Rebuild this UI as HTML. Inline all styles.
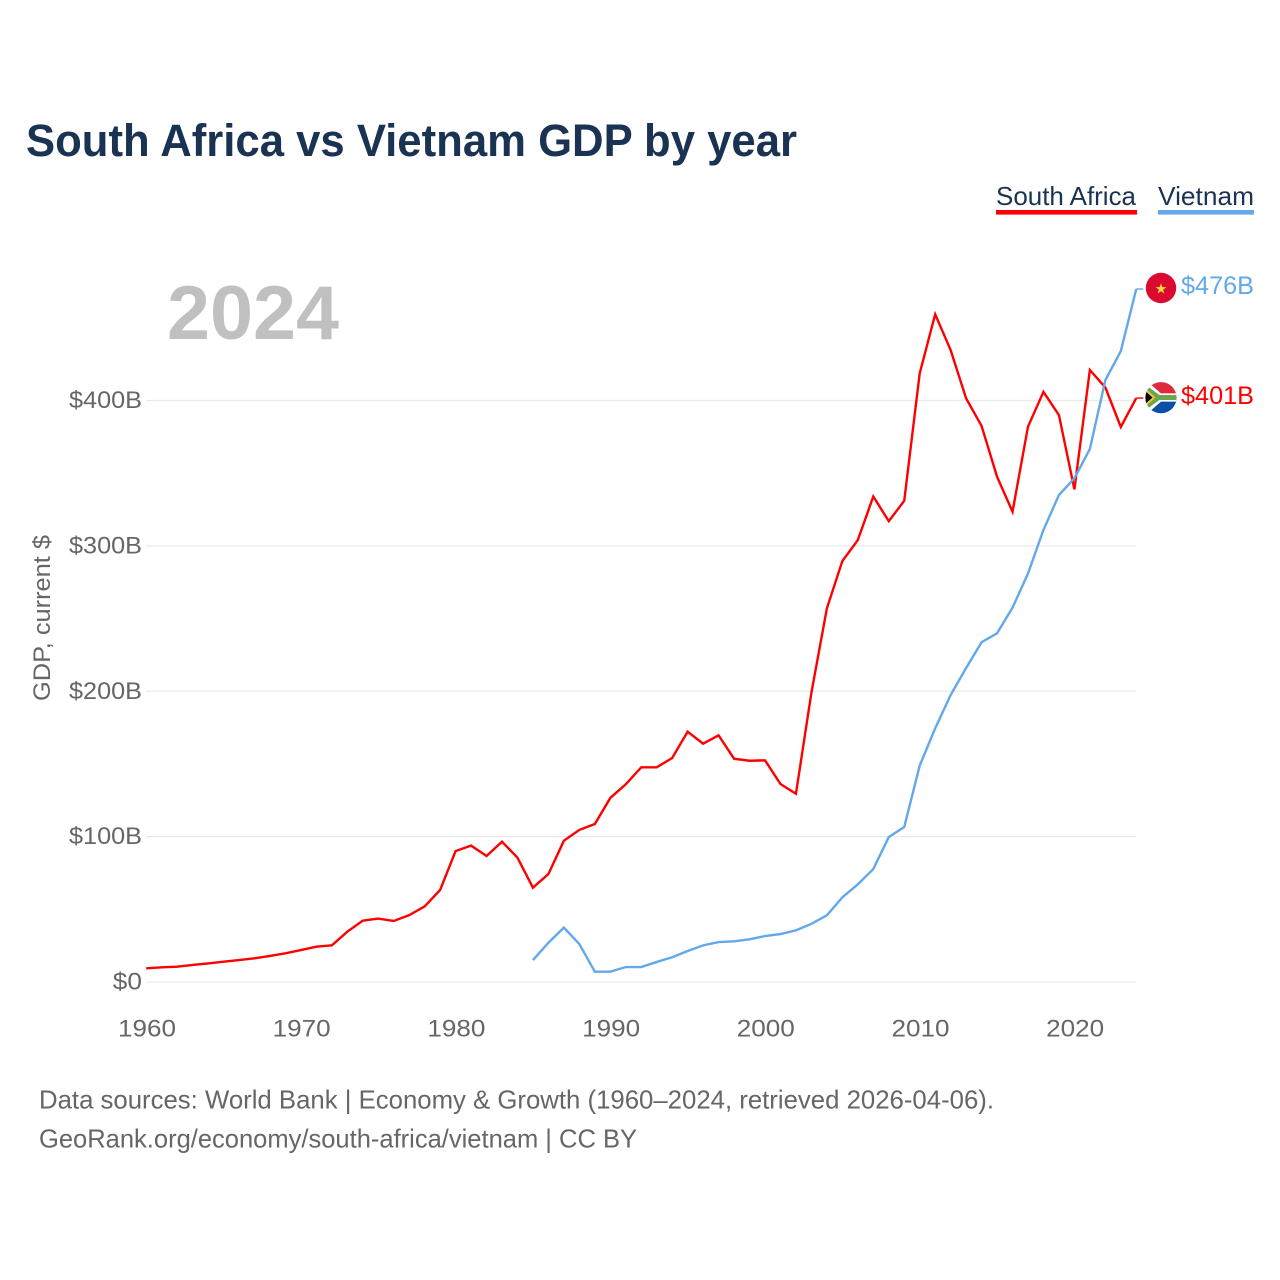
<!DOCTYPE html>
<html lang="en">
<head>
<meta charset="utf-8">
<title>South Africa vs Vietnam GDP by year</title>
<style>
html,body{margin:0;padding:0;background:#fff;width:1280px;height:1280px;overflow:hidden}
svg{display:block}
text{font-family:"Liberation Sans",sans-serif}
</style>
</head>
<body>
<svg id="chart" xmlns="http://www.w3.org/2000/svg" width="1280" height="1280" viewBox="0 0 1280 1280">
  <rect x="0" y="0" width="1280" height="1280" fill="#ffffff"/>
  <text x="26" y="156" font-size="45" font-weight="700" fill="#1a3353" textLength="771" lengthAdjust="spacingAndGlyphs">South Africa vs Vietnam GDP by year</text>

  <g id="grid"></g>
  <g id="yticks"></g>
  <g id="xticks"></g>
  <text transform="translate(50,618) rotate(-90)" text-anchor="middle" font-size="24" fill="#666666" textLength="166" lengthAdjust="spacingAndGlyphs">GDP, current $</text>

  <text x="167" y="339" font-size="76" font-weight="700" fill="#c0c0c0" textLength="172" lengthAdjust="spacingAndGlyphs">2024</text>

  <g id="series"></g>

  <g>
    <text x="996" y="205" font-size="26" fill="#1a3353" textLength="140" lengthAdjust="spacingAndGlyphs">South Africa</text>
    <rect x="996" y="210" width="141" height="4.6" fill="#ff0000"/>
  </g>
  <g>
    <text x="1158" y="205" font-size="26" fill="#1a3353" textLength="96" lengthAdjust="spacingAndGlyphs">Vietnam</text>
    <rect x="1158" y="210" width="96" height="4.6" fill="#62a8ea"/>
  </g>

  <defs>
    <clipPath id="sa-clip"><circle cx="1161" cy="397.7" r="15.6"/></clipPath>
  </defs>
  <g>
    <circle cx="1161" cy="288" r="15.2" fill="#da0a30"/>
    <polygon transform="translate(1161,288.6) scale(0.72) translate(-1161,-288)" points="1161,280.6 1162.9,285.9 1168.5,286 1164,289.4 1165.6,294.8 1161,291.6 1156.4,294.8 1158,289.4 1153.5,286 1159.1,285.9" fill="#fcd63a"/>
  </g>
  <g clip-path="url(#sa-clip)">
    <rect x="1145" y="381" width="33" height="17" fill="#de2a3c"/>
    <rect x="1145" y="397.5" width="33" height="17" fill="#0b50a8"/>
    <path d="M1148,382 L1161,393.4 L1178,393.4 L1178,401.6 L1161,401.6 L1148,413 L1145,413 L1145,382 Z" fill="#ffffff"/>
    <path d="M1145,384.5 L1159.4,395 L1178,395 L1178,400 L1159.4,400 L1145,410.5 Z" fill="#6da54e"/>
    <path d="M1144,388.5 L1154,397.5 L1144,406.5 Z" fill="#000000" stroke="#f3c53a" stroke-width="2"/>
  </g>
  <text x="1181" y="294" font-size="25" fill="#62a8ea" textLength="73" lengthAdjust="spacingAndGlyphs">$476B</text>
  <text x="1181" y="404" font-size="25" fill="#ff0000" textLength="73" lengthAdjust="spacingAndGlyphs">$401B</text>

  <text x="39" y="1108.5" font-size="26" fill="#666666" textLength="955" lengthAdjust="spacingAndGlyphs">Data sources: World Bank | Economy &amp; Growth (1960–2024, retrieved 2026-04-06).</text>
  <text x="39" y="1147.5" font-size="26" fill="#666666" textLength="598" lengthAdjust="spacingAndGlyphs">GeoRank.org/economy/south-africa/vietnam | CC BY</text>
</svg>

<script>
const firstYear = 1960;
const southAfricaGdp = [9.4,10.1,10.5,11.7,12.8,14,15.1,16.3,17.9,19.7,22,24.3,25.2,34.6,42.2,43.6,42,46,52,63.3,90.1,93.8,86.7,96.5,85.5,64.9,74.3,97.2,104.6,108.7,126.6,136,147.7,147.7,154.1,172.2,163.9,169.7,153.6,152.2,152.5,136.2,129.5,199,257,289.6,304,334,317,331,418.7,459.3,434.7,401.5,382.5,347.6,323.5,382,406,390,338.9,421,409,381.8,401.7];
const vietnamFirstYear = 1985;
const vietnamGdp = [15.1,27,37.4,26.1,7.1,7.1,10.3,10.3,13.8,17,21.3,25.2,27.5,28,29.4,31.6,33,35.5,40,45.9,58.2,67.2,77.7,99.7,106.6,148.8,174.5,197.4,216,233.7,239.9,257.5,281,311,335,346.5,366.7,414,434,476.7];
const yTickValues = [0,100,200,300,400];
const yTickLabels = ["$0","$100B","$200B","$300B","$400B"];
const xTickYears = [1960,1970,1980,1990,2000,2010,2020];
const xTickLabels = ["1960","1970","1980","1990","2000","2010","2020"];

const NS = "http://www.w3.org/2000/svg";
function xScale(year){ return 146.2 + (year - 1960) * 15.47; }
function yScale(value){ return 982 - value * 1.4537; }
function make(tag, parent, attrs, content){
  const el = document.createElementNS(NS, tag);
  for (const key in attrs) el.setAttribute(key, attrs[key]);
  if (content !== undefined) el.textContent = content;
  parent.appendChild(el);
  return el;
}
const gridGroup = document.getElementById("grid");
const yTickGroup = document.getElementById("yticks");
const xTickGroup = document.getElementById("xticks");
const seriesGroup = document.getElementById("series");

yTickValues.forEach(function(value, i){
  const line = make("line", gridGroup, {x1:146, x2:1136, y1:yScale(value), y2:yScale(value), stroke:"#e9e9e9", "stroke-width":1.3});
  
  
  const label = yTickLabels[i];
  const tick = make("text", yTickGroup, {x:142, y:yScale(value)+7.5, "text-anchor":"end", "font-size":24.5, fill:"#666666", textLength:label.length*14.6, lengthAdjust:"spacingAndGlyphs"}, label);
  
  
});

xTickYears.forEach(function(year, i){
  const tick = make("text", xTickGroup, {x:xScale(year)+0.8, y:1036.4, "text-anchor":"middle", "font-size":24.5, fill:"#666666", textLength:58, lengthAdjust:"spacingAndGlyphs"}, xTickLabels[i]);
  
  
});

function seriesPoints(values, startYear){
  return values.map(function(v, i){ return xScale(startYear + i).toFixed(2) + "," + yScale(v).toFixed(2); }).join(" ");
}
function drawStub(values, startYear, color){
  const lastYear = startYear + values.length - 1;
  const lastValue = values[values.length - 1];
  const stub = make("line", seriesGroup, {x1:xScale(lastYear), x2:xScale(lastYear)+7, y1:yScale(lastValue), y2:yScale(lastValue), stroke:color, "stroke-width":1.4});
  return stub;
}
const redLine = make("polyline", seriesGroup, {points:seriesPoints(southAfricaGdp, firstYear), fill:"none", stroke:"#ff0000", "stroke-width":2.4, "stroke-linejoin":"miter"});


const redStub = drawStub(southAfricaGdp, firstYear, "#ff0000");


const blueLine = make("polyline", seriesGroup, {points:seriesPoints(vietnamGdp, vietnamFirstYear), fill:"none", stroke:"#62a8ea", "stroke-width":2.4, "stroke-linejoin":"miter"});


const blueStub = drawStub(vietnamGdp, vietnamFirstYear, "#62a8ea");


</script>
</body>
</html>
